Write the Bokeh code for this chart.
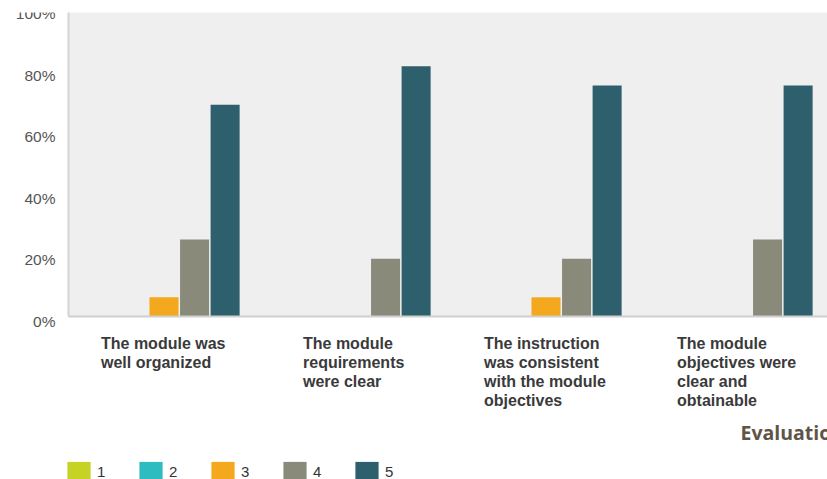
from bokeh.plotting import figure
from bokeh.models import (Range1d, SingleIntervalTicker, Label, Legend,
                          LegendItem, ColumnDataSource, BoxAnnotation)
from bokeh.core.properties import value
from bokeh.transform import dodge
from bokeh.embed import file_html
from bokeh.resources import INLINE

# ---- data ----
categories = ["The module was\nwell organized",
              "The module\nrequirements\nwere clear",
              "The instruction\nwas consistent\nwith the module\nobjectives",
              "The module\nobjectives were\nclear and\nobtainable"]
series_names = ["1", "2", "3", "4", "5"]
s1 = [0.0, 0.0, 0.0, 0.0]
s2 = [0.0, 0.0, 0.0, 0.0]
s3 = [6.25, 0.0, 6.25, 0.0]
s4 = [25.0, 18.75, 18.75, 25.0]
s5 = [68.75, 81.25, 75.0, 75.0]
series_values = [s1, s2, s3, s4, s5]
y_min, y_max = 0, 100
y_ticks = [0, 20, 40, 60, 80, 100]
y_tick_labels = ["0%", "20%", "40%", "60%", "80%", "100%"]
grid_step = 10
side_text = "Evaluation"

colors = ["#c6d224", "#2fbcc0", "#f4a81d", "#898a7a", "#2e5f6d"]
label_offsets = [-63, -52, -62, -60]

xc = [i + 0.5 for i in range(len(categories))]
data = {"x": xc}
for name, vals in zip(series_names, series_values):
    data["s" + name] = vals
src = ColumnDataSource(data)

# frame covers the whole canvas; the value area starts at x = 0 (68 px in)
p = figure(width=827, height=479, output_backend="svg", toolbar_location=None,
           x_range=Range1d(-68 / 191, 759 / 191), y_range=Range1d(-52.9, y_max + 8 / 3.08),
           x_axis_location=None, y_axis_location=None,
           min_border_left=0, min_border_right=0, min_border_top=0,
           min_border_bottom=0, background_fill_color="white",
           border_fill_color="white", outline_line_color=None)

# plot-area background over the value range
p.add_layout(BoxAnnotation(left=0, bottom=y_min, top=y_max, fill_color="#efefef",
                           fill_alpha=1, line_color=None, level="underlay"))

p.xgrid.grid_line_color = None
p.ygrid.ticker = SingleIntervalTicker(interval=grid_step)
p.ygrid.grid_line_color = "white"
p.ygrid.grid_line_width = 2
p.ygrid.level = "underlay"

pitch = 0.16
bw = 0.152
renderers = []
for k, name in enumerate(series_names):
    r = p.vbar(x=dodge("x", (k - 2) * pitch, range=p.x_range), top="s" + name,
               width=bw, source=src, fill_color=colors[k], line_color=None)
    renderers.append(r)

# axis lines
p.segment(x0=[0], y0=[y_min], x1=[0], y1=[y_max], line_color="#d4d4d4", line_width=2)
p.segment(x0=[0], y0=[y_min], x1=[len(categories)], y1=[y_min],
          line_color="#cfcfcf", line_width=2)

# y tick labels
p.text(x=[0] * len(y_ticks), y=y_ticks, text=y_tick_labels, x_offset=-13, y_offset=5,
       text_align="right", text_baseline="middle", text_font=value("Liberation Sans"),
       text_font_size="15.5px", text_color="#555555")

# category labels
for i, cat in enumerate(categories):
    p.add_layout(Label(x=xc[i], y=y_min, x_offset=label_offsets[i], y_offset=-18,
                       text=cat, text_align="left", text_baseline="top",
                       text_font="Liberation Sans", text_font_style="bold",
                       text_font_size="16px", text_color="#3a3a3a",
                       text_line_height=1.125))

# cropped slide title
p.add_layout(Label(x=740, y=61, x_units="screen", y_units="screen",
                   text=side_text, text_align="left", text_baseline="top",
                   text_font="Open Sans", text_font_style="bold",
                   text_font_size="19.5px", text_color="#5e5548"))

# white strip at the very top (the source image is cropped there)
p.add_layout(BoxAnnotation(bottom=467, bottom_units="screen", fill_color="white",
                           fill_alpha=1, line_color=None, level="overlay"))

legend = Legend(items=[LegendItem(label=n, renderers=[r]) for n, r in zip(series_names, renderers)],
                orientation="horizontal", location=(64, -4),
                glyph_width=29, glyph_height=24, label_standoff=4, spacing=19,
                padding=0, margin=0, border_line_color=None,
                background_fill_alpha=0, label_text_font="Liberation Sans",
                label_text_font_size="15px", label_text_color="#333333")
p.add_layout(legend, "center")

open("out.html", "w").write(file_html(p, INLINE))
